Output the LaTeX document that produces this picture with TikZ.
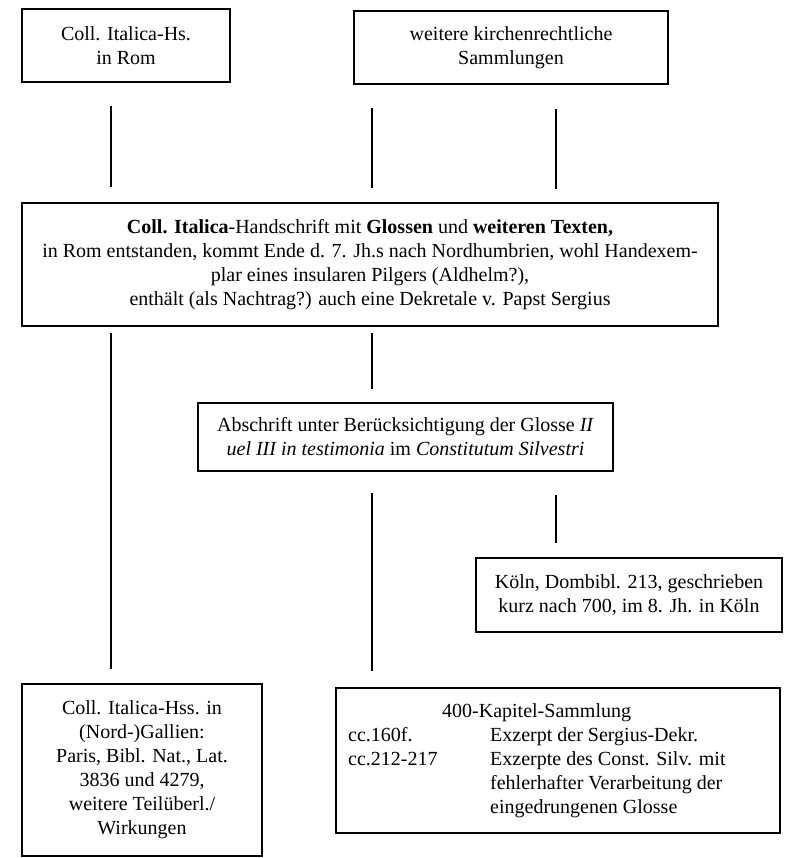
\documentclass[tikz,border=0pt]{standalone}
\usepackage{fontspec}
\setmainfont{Liberation Serif}
\begin{document}
\tikzset{
  box/.style={draw, line width=1.3pt, inner sep=0pt, align=center, font=\fontsize{20}{24}\selectfont},
  txt/.style={inner sep=0pt, align=left, font=\fontsize{20}{24}\selectfont},
  link/.style={line width=1.3pt}
}
\begin{tikzpicture}[x=1pt,y=-1pt]
\useasboundingbox (0,0) rectangle (792,858);
% boxes
\node[box, minimum width=208pt, minimum height=73pt] (b1) at (126,45.5) {Coll. Italica-Hs.\\in Rom};
\node[box, minimum width=314pt, minimum height=73pt] (b2) at (511,47.5) {weitere kirchenrechtliche\\Sammlungen};
\node[box, minimum width=696pt, minimum height=123pt] (b3) at (370,264.5)
  {\textbf{Coll. Italica}-Handschrift mit \textbf{Glossen} und \textbf{weiteren Texten,}\\
   in Rom entstanden, kommt Ende d. 7. Jh.s nach Nordhumbrien, wohl Handexem-\\
   plar eines insularen Pilgers (Aldhelm?),\\
   enthält (als Nachtrag?) auch eine Dekretale v. Papst Sergius};
\node[box, minimum width=415pt, minimum height=68pt] (b4) at (405.5,437)
  {Abschrift unter Berücksichtigung der Glosse \textit{II}\\
   \textit{uel III in testimonia} im \textit{Constitutum Silvestri}};
\node[box, minimum width=306pt, minimum height=74pt] (b5) at (629,595)
  {Köln, Dombibl. 213, geschrieben\\kurz nach 700, im 8. Jh. in Köln};
\node[box, minimum width=240pt, minimum height=172pt] (b6) at (142,770)
  {Coll. Italica-Hss. in\\(Nord-)Gallien:\\Paris, Bibl. Nat., Lat.\\3836 und 4279,\\weitere Teilüberl./\\Wirkungen};
\node[box, minimum width=444pt, minimum height=145pt] (b7) at (558,760.5) {};
\node[txt, anchor=west] (b7t) at (348,760.5)
  {\begin{tabular}{@{}p{142pt}@{}l@{}}
   \multicolumn{2}{@{}l@{}}{\hspace{94pt}400-Kapitel-Sammlung}\\
   cc.160f. & Exzerpt der Sergius-Dekr.\\
   cc.212-217 & Exzerpte des Const. Silv. mit\\
    & fehlerhafter Verarbeitung der\\
    & eingedrungenen Glosse
   \end{tabular}};
% line segments
\coordinate (l1a) at (111,106); \coordinate (l1b) at (111,187);
\coordinate (l2a) at (372,108); \coordinate (l2b) at (372,188);
\coordinate (l3a) at (556,109); \coordinate (l3b) at (556,189);
\coordinate (l4a) at (111,333); \coordinate (l4b) at (111,669);
\coordinate (l5a) at (372,333); \coordinate (l5b) at (372,389);
\coordinate (l6a) at (372,493); \coordinate (l6b) at (372,671);
\coordinate (l7a) at (556,495); \coordinate (l7b) at (556,543);
\draw[link] (l1a) -- (l1b);
\draw[link] (l2a) -- (l2b);
\draw[link] (l3a) -- (l3b);
\draw[link] (l4a) -- (l4b);
\draw[link] (l5a) -- (l5b);
\draw[link] (l6a) -- (l6b);
\draw[link] (l7a) -- (l7b);
\end{tikzpicture}
\end{document}
